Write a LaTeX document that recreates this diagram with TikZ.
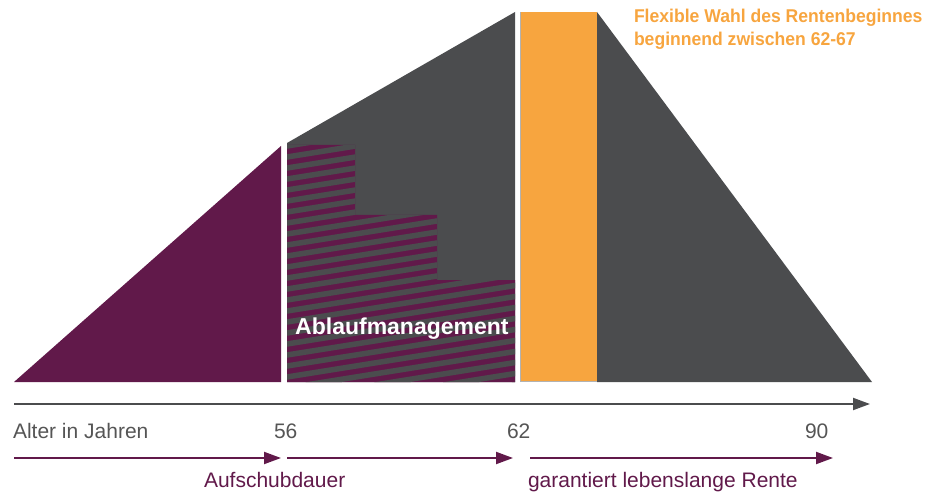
\documentclass[tikz,border=0pt]{standalone}
\usepackage{fontspec}
\setmainfont{Liberation Sans}
\newfontfamily\condfont[FakeStretch=0.95]{Liberation Sans}
\usetikzlibrary{arrows.meta}
\definecolor{rpurple}{HTML}{61194A}
\definecolor{rgray}{HTML}{4B4C4E}
\definecolor{rorange}{HTML}{F7A53F}
\definecolor{rtext}{HTML}{555555}
\tikzset{
  lbl/.style={anchor=base west, inner sep=0pt, outer sep=0pt, text=rtext, font=\fontsize{21}{24}\selectfont},
  plbl/.style={anchor=base west, inner sep=0pt, outer sep=0pt, text=rpurple, font=\fontsize{21}{24}\selectfont},
  ttl/.style={anchor=base west, inner sep=0pt, outer sep=0pt, text=rorange, font=\condfont\bfseries\fontsize{18.5}{22}\selectfont},
  parrow/.style={draw=rpurple, line width=2pt, -{Triangle[length=17pt,width=12pt]}},
  garrow/.style={draw=rgray, line width=2pt, -{Triangle[length=17pt,width=12pt]}},
  stripe/.style={draw=rgray, line width=5.5pt}
}
\begin{document}
\begin{tikzpicture}[x=1pt,y=-1pt]
\useasboundingbox (0,0) rectangle (938,492);
% purple triangle
\fill[rpurple] (14,382) -- (281,146) -- (281,382) -- cycle;
% middle gray block
\fill[rgray] (287,143) -- (515,12) -- (515,382) -- (287,382) -- cycle;
% hatched staircase
\begin{scope}
\clip (287,145) -- (355,145) -- (355,215) -- (437,215) -- (437,280) -- (515,280) -- (515,382) -- (287,382) -- cycle;
\fill[rpurple] (280,140) rectangle (520,390);
\foreach \c in {135,146,...,460} {
  \draw[stripe] (280,{\c+0.16*7}) -- (520,{\c-0.16*233});
}
\end{scope}
% orange rectangle
\fill[rorange] (520,12) rectangle (597,382);
\draw[gray!60, line width=0.8pt] (520.4,12) -- (520.4,381.6) -- (597,381.6);
% right gray triangle
\fill[rgray] (597,12) -- (872,382) -- (597,382) -- cycle;
% axis
\coordinate (ax0) at (14,404);
\coordinate (ax1) at (870,404);
\draw[garrow] (ax0) -- (ax1);
% purple arrows
\coordinate (p0) at (14,458);
\coordinate (p1) at (281,458);
\coordinate (p2) at (287,458);
\coordinate (p3) at (513,458);
\coordinate (p4) at (530,458);
\coordinate (p5) at (833,458);
\draw[parrow] (p0) -- (p1);
\draw[parrow] (p2) -- (p3);
\draw[parrow] (p4) -- (p5);
% labels
\node[lbl] (alter) at (13,438) {Alter in Jahren};
\node[lbl] (l56) at (274,438) {56};
\node[lbl] (l62) at (507,438) {62};
\node[lbl] (l90) at (805,438) {90};
\node[plbl] (auf) at (204,487) {Aufschubdauer};
\node[plbl] (gar) at (528,487) {garantiert lebenslange Rente};
\node[ttl] (t1) at (634,23) {Flexible Wahl des Rentenbeginnes};
\node[ttl] (t2) at (634,46) {beginnend zwischen 62-67};
\node[anchor=base west, inner sep=0pt, text=white, font=\bfseries\fontsize{23}{26}\selectfont] (abl) at (295,334) {Ablaufmanagement};
\end{tikzpicture}
\end{document}
